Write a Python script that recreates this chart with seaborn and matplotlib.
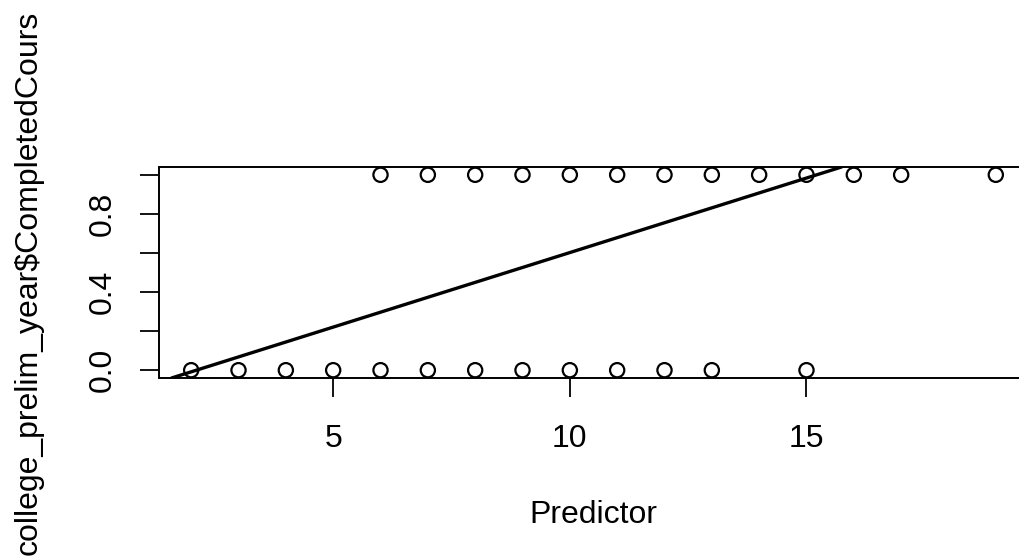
import numpy as np
import pandas as pd
import seaborn as sns
import matplotlib.pyplot as plt

# ==============================
# Data
# ==============================
x_completed = [6, 7, 8, 9, 10, 11, 12, 13, 14, 15, 16, 17, 19]
x_not_completed = [2, 3, 4, 5, 6, 7, 8, 9, 10, 11, 12, 13, 15]
fit_intercept = -0.161
fit_slope = 0.0763

df = pd.DataFrame({
    "Predictor": x_completed + x_not_completed,
    "CompletedCourse": [1] * len(x_completed) + [0] * len(x_not_completed),
})

# ==============================
# Style (R base-graphics look)
# ==============================
sns.set_style("ticks")
plt.rcParams["font.family"] = ["Liberation Sans", "DejaVu Sans"]
plt.rcParams["font.size"] = 23
plt.rcParams["text.color"] = "black"
plt.rcParams["xtick.color"] = "black"
plt.rcParams["ytick.color"] = "black"
plt.rcParams["axes.labelcolor"] = "black"

W, H = 1019, 559
fig = plt.figure(figsize=(W / 100, H / 100), dpi=100)
ax = fig.add_axes([159 / W, (H - 378) / H, (1028 - 159) / W, (378 - 167) / H])

sns.scatterplot(data=df, x="Predictor", y="CompletedCourse", ax=ax,
                marker="o", s=105, facecolor="none", edgecolor="black",
                linewidth=1.6, zorder=3)
ax.axline((0, fit_intercept), slope=fit_slope, color="black", lw=2.4, zorder=2)

ax.set_xlim(1.32, 19.68)
ax.set_ylim(-0.04, 1.04)
ax.set_xticks([5, 10, 15])
ax.set_yticks([0, 0.2, 0.4, 0.6, 0.8, 1.0])
ax.set_yticklabels(["0.0", "", "0.4", "", "0.8", ""])
for lab in ax.get_yticklabels():
    lab.set_rotation(90)
    lab.set_va("center")

ax.tick_params(axis="both", direction="out", length=14, width=1.3, labelsize=23)
ax.tick_params(axis="x", pad=19)
ax.tick_params(axis="y", pad=16)
for sp in ax.spines.values():
    sp.set_color("black")
    sp.set_linewidth(1.4)

ax.set_xlabel("Predictor", fontsize=23, labelpad=33)
ax.set_ylabel("")
fig.text(29 / W, 4 / H, "college_prelim_year$CompletedCours", rotation=90,
         ha="center", va="bottom", fontsize=23)

fig.savefig("out.png", dpi=100, facecolor="white")
